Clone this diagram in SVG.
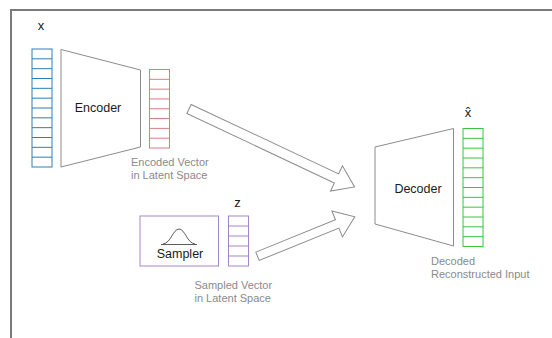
<svg xmlns="http://www.w3.org/2000/svg" width="552" height="338" viewBox="0 0 552 338">
<style>
.lbl{font-family:"Liberation Sans",Arial,sans-serif;fill:#1a1a1a}
.cap{font-family:"Liberation Sans",Arial,sans-serif;fill:#8a8a8a;font-size:11px}
.shape{fill:#fff;stroke:#8c8c8c;stroke-width:1}
.vec{fill:#fff;stroke-width:1}
</style>
<rect width="552" height="338" fill="#fff"/>
<path d="M11,340 V10 H554" fill="none" stroke="#7a7a7a" stroke-width="2"/>
<g id="input-x">
<text class="lbl" x="41" y="30" font-size="13" text-anchor="middle">x</text>
<rect class="vec" x="32" y="49" width="20" height="118" stroke="#2b7fb8"/>
<path d="M32,58.83H52M32,68.67H52M32,78.5H52M32,88.33H52M32,98.17H52M32,108H52M32,117.83H52M32,127.67H52M32,137.5H52M32,147.33H52M32,157.17H52" stroke="#2b7fb8" stroke-width="1" fill="none"/>
</g>
<g id="encoder">
<polygon class="shape" points="61,49.5 140.5,70 140.5,147 61,167"/>
<text class="lbl" x="98" y="112" font-size="12.5" text-anchor="middle">Encoder</text>
</g>
<g id="encoded-vector">
<rect class="vec" x="149.5" y="69.5" width="20" height="78.5" stroke="#de7a82"/>
<path d="M149.5,79.31H169.5M149.5,89.13H169.5M149.5,98.94H169.5M149.5,108.75H169.5M149.5,118.56H169.5M149.5,128.38H169.5M149.5,138.19H169.5" stroke="#de7a82" stroke-width="1" fill="none"/>
<text class="cap" x="131" y="166">Encoded Vector</text>
<text class="cap" x="131" y="178.5">in Latent Space</text>
</g>
<g id="sampler">
<rect x="140" y="216" width="78.5" height="50" fill="#fff" stroke="#a585c8" stroke-width="1"/>
<path d="M161,244.5 H197" stroke="#333" stroke-width="0.8" fill="none"/>
<path d="M163,244 C171,243 173,229 179,229 C185,229 187,243 195,244" stroke="#333" stroke-width="0.8" fill="none"/>
<text class="lbl" x="180" y="258" font-size="12.5" text-anchor="middle">Sampler</text>
</g>
<g id="latent-z">
<text class="lbl" x="237.5" y="207" font-size="13" text-anchor="middle">z</text>
<rect class="vec" x="228.5" y="216" width="20" height="50" stroke="#a585c8"/>
<path d="M228.5,226H248.5M228.5,236H248.5M228.5,246H248.5M228.5,256H248.5" stroke="#a585c8" stroke-width="1" fill="none"/>
<text class="cap" x="194.5" y="289">Sampled Vector</text>
<text class="cap" x="194.5" y="301.5">in Latent Space</text>
</g>
<g id="decoder">
<polygon class="shape" points="375,147 453.5,128.5 453.5,246 375,224"/>
<text class="lbl" x="418" y="193" font-size="12.5" text-anchor="middle">Decoder</text>
</g>
<g id="output-xhat">
<text class="lbl" x="468" y="117" font-size="13" text-anchor="middle">x̂</text>
<rect class="vec" x="463" y="128.5" width="20" height="118" stroke="#3cc43c"/>
<path d="M463,138.33H483M463,148.17H483M463,158H483M463,167.83H483M463,177.67H483M463,187.5H483M463,197.33H483M463,207.17H483M463,217H483M463,226.83H483M463,236.67H483" stroke="#3cc43c" stroke-width="1" fill="none"/>
<text class="cap" x="431" y="265">Decoded</text>
<text class="cap" x="431" y="278">Reconstructed Input</text>
</g>
<g id="connectors">
<polygon class="shape" transform="translate(189,109) rotate(25.2)" points="0,-5 163,-5 163,-14 183,0 163,14 163,5 0,5"/>
<polygon class="shape" transform="translate(257.5,256.3) rotate(-22.1)" points="0,-4.5 86,-4.5 86,-14 105,0 86,14 86,4.5 0,4.5"/>
</g>
</svg>
